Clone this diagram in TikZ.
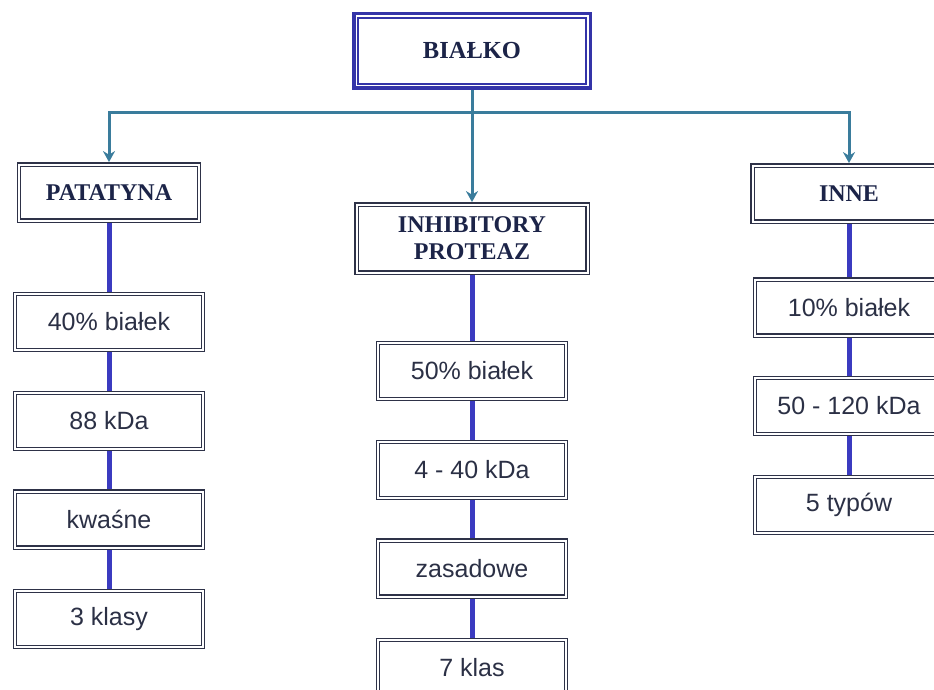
\documentclass[tikz,border=0pt]{standalone}
\usepackage{fontspec}
\setmainfont{Liberation Sans}
\newfontfamily\headfont{Liberation Serif}
\usetikzlibrary{arrows.meta}

\definecolor{boxline}{HTML}{2E3248}
\definecolor{topline}{HTML}{3434A8}
\definecolor{feedcol}{HTML}{3A7C9C}
\definecolor{linkcol}{HTML}{3B3BC0}
\definecolor{txtcol}{HTML}{2B3045}
\definecolor{headcol}{HTML}{1C2448}

\begin{document}
\begin{tikzpicture}[
  x=1pt, y=-1pt,
  font=\fontsize{25}{29}\selectfont, text=txtcol,
  dbox/.style={draw=boxline, line width=1.4pt, double, double distance=2pt,
               minimum width=188pt, minimum height=56pt, inner sep=0pt,
               outer sep=2.4pt, align=center},
  head/.style={dbox, text=headcol,
               font=\headfont\bfseries\fontsize{24}{27}\selectfont},
  topbox/.style={draw=topline, line width=3.5pt, inner sep=0pt,
                 outer sep=1.75pt, minimum width=236.5pt,
                 minimum height=74.5pt, text=headcol,
                 font=\headfont\bfseries\fontsize{24.5}{27}\selectfont},
  feed/.style={draw=feedcol, line width=3pt},
  arr/.style={feed, -{Stealth[length=11pt,width=12pt]}},
  link/.style={draw=linkcol, line width=5pt}]
\useasboundingbox (0,0) rectangle (934,690);
\clip (0,0) rectangle (934,690);

% root
\node[topbox] (bialko) at (472,51) {BIAŁKO};
\draw[topline, line width=2pt]
  ([shift={(6,6)}]bialko.north west) rectangle
  ([shift={(-6,-6)}]bialko.south east);

% groups
\node[head, minimum width=180pt] (patat) at (109,192.5) {PATATYNA};
\node[head, minimum width=231pt, minimum height=68pt] (inhib) at (472,238.5)
  {INHIBITORY\\PROTEAZ};
\node[head, minimum width=193pt] (inne) at (849,193.5) {INNE};

% left column
\node[dbox] (b40) at (109,322) {40\% białek};
\node[dbox] (kda88) at (109,421) {88 kDa};
\node[dbox] (kwas) at (109,519.5) {kwaśne};
\node[dbox] (kl3) at (109,619) {3 klasy};

% middle column
\node[dbox] (b50) at (472,371) {50\% białek};
\node[dbox] (kda440) at (472,470) {4 - 40 kDa};
\node[dbox] (zas) at (472,568.5) {zasadowe};
\node[dbox] (kl7) at (472,668) {7 klas};

% right column
\node[dbox] (b10) at (849,307.5) {10\% białek};
\node[dbox] (kda50) at (849,406) {50 - 120 kDa};
\node[dbox] (typ5) at (849,505) {5 typów};

% tree arrows
\coordinate (split) at (472,113);
\draw[arr] (bialko.south) -- (inhib.north);
\draw[arr] (split) -| (patat.north);
\draw[arr] (split) -| (inne.north);

% columns
\draw[link] (patat) -- (b40);
\draw[link] (b40) -- (kda88);
\draw[link] (kda88) -- (kwas);
\draw[link] (kwas) -- (kl3);
\draw[link] (inhib) -- (b50);
\draw[link] (b50) -- (kda440);
\draw[link] (kda440) -- (zas);
\draw[link] (zas) -- (kl7);
\draw[link] (inne) -- (b10);
\draw[link] (b10) -- (kda50);
\draw[link] (kda50) -- (typ5);
\end{tikzpicture}
\end{document}
